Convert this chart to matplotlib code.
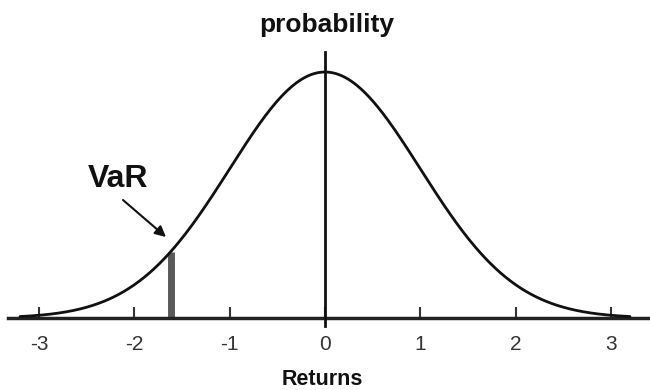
import numpy as np
import matplotlib
matplotlib.use("Agg")
import matplotlib.pyplot as plt
import matplotlib.transforms as mtransforms

# Data
mu = 0.0
sigma = 1.0
var_level = -1.62
tick_values = [-3, -2, -1, 0, 1, 2, 3]
tick_labels = ["-3", "-2", "-1", "0", "1", "2", "3"]
title_text = "probability"
xlabel_text = "Returns"
var_text = "VaR"

plt.rcParams['font.family'] = ['Liberation Sans', 'DejaVu Sans']

W, H = 650, 390
fig = plt.figure(figsize=(W / 100, H / 100), dpi=100)
fig.patch.set_facecolor("white")

# axes: x from px 8 to 650, axis line at y=318, top at y=52
px_per_unit = 95.3
x0_px = 325
left_px, right_px = 8, 650
xmin = (left_px - x0_px) / px_per_unit
xmax = (right_px - x0_px) / px_per_unit
peak = 1.0 / (sigma * np.sqrt(2 * np.pi))
y_per_px = peak / 246.0
ymax = (318 - 52) * y_per_px

ax = fig.add_axes([left_px / W, (H - 318) / H, (right_px - left_px) / W, (318 - 52) / H])
ax.set_xlim(xmin, xmax)
ax.set_ylim(0, ymax)

def pdf(x):
    return np.exp(-0.5 * ((x - mu) / sigma) ** 2) / (sigma * np.sqrt(2 * np.pi))

xs = np.linspace(-3.2, 3.2, 600)
ax.plot(xs, pdf(xs), color="#111111", lw=2.0, solid_capstyle="round", zorder=3)

# vertical line at mean
trans = mtransforms.blended_transform_factory(ax.transData, ax.transAxes)
ax.plot([mu, mu], [-8 / 266, 1.0], color="#111111", lw=2.0, transform=trans,
        clip_on=False, zorder=4)

# VaR bar
ax.plot([var_level, var_level], [0, pdf(var_level)], color="#5a5a5a", lw=5,
        solid_capstyle="butt", zorder=2)

# spines
for s in ["left", "right", "top"]:
    ax.spines[s].set_visible(False)
ax.spines["bottom"].set_linewidth(2.5)
ax.spines["bottom"].set_color("#222222")
ax.set_yticks([])
ax.set_xticks(tick_values)
ax.set_xticklabels(tick_labels, fontsize=15, color="#333333")
ax.tick_params(axis="x", direction="in", length=8, width=1.5, color="#333333", pad=12)

# annotations
ax.annotate("", xy=((166 - x0_px) / px_per_unit, (318 - 237) * y_per_px),
            xytext=((123 - x0_px) / px_per_unit, (318 - 200) * y_per_px),
            arrowprops=dict(arrowstyle="-|>", color="#111111", lw=1.5,
                            mutation_scale=16, shrinkA=0, shrinkB=0))
ax.text((118 - x0_px) / px_per_unit, (318 - 179) * y_per_px, var_text,
        fontsize=23, fontweight="bold", color="#111111", ha="center", va="center")

fig.text(327 / W, (H - 32) / H, title_text, fontsize=19, fontweight="bold",
         color="#111111", ha="center", va="baseline")
fig.text(322 / W, (H - 385) / H, xlabel_text, fontsize=15.5, fontweight="bold",
         color="#111111", ha="center", va="baseline")

fig.savefig("out.png", dpi=100, facecolor="white")
